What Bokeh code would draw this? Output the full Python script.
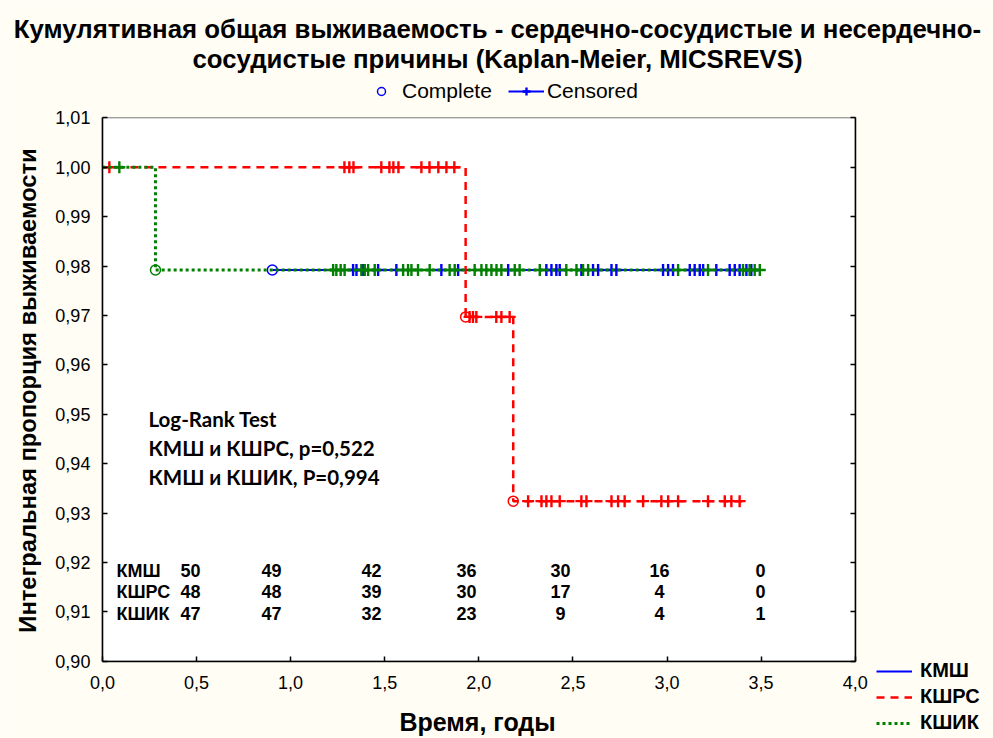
import math
from bokeh.plotting import figure
from bokeh.models import Range1d, LinearAxis, FixedTicker, Legend, LegendItem, Label, BoxAnnotation
from bokeh.core.properties import value
from bokeh.embed import file_html
from bokeh.resources import INLINE

# ---------------- data ----------------
TITLE_LINES = ["Кумулятивная общая выживаемость - сердечно-сосудистые и несердечно-",
               "сосудистые причины (Kaplan-Meier, MICSREVS)"]
X_TITLE = "Время, годы"
Y_TITLE = "Интегральная пропорция выживаемости"

x_ticks = [0.0, 0.5, 1.0, 1.5, 2.0, 2.5, 3.0, 3.5, 4.0]
x_tick_labels = ["0,0", "0,5", "1,0", "1,5", "2,0", "2,5", "3,0", "3,5", "4,0"]
y_ticks = [0.90, 0.91, 0.92, 0.93, 0.94, 0.95, 0.96, 0.97, 0.98, 0.99, 1.00, 1.01]
y_tick_labels = ["0,90", "0,91", "0,92", "0,93", "0,94", "0,95", "0,96", "0,97",
                 "0,98", "0,99", "1,00", "1,01"]

groups = ["КМШ", "КШРС", "КШИК"]

# КМШ (blue)
kmsh_event_t = [0.903]
kmsh_surv = [0.9792]
kmsh_end = 3.49
kmsh_cens = [1.332, 1.350, 1.385, 1.465, 1.562, 1.801, 1.890, 2.156, 2.359, 2.386,
             2.412, 2.430, 2.545, 2.607, 2.634, 2.705, 2.731, 2.979, 3.006, 3.032,
             3.121, 3.147, 3.174, 3.192, 3.262, 3.333, 3.360, 3.386, 3.422, 3.448]

# КШРС (red)
kshrs_event_t = [1.930, 2.183]
kshrs_surv = [0.9697, 0.9324]
kshrs_end = 3.40
kshrs_cens_lvl0 = [0.037, 1.286, 1.312, 1.334, 1.482, 1.525, 1.546, 1.573, 1.695,
                   1.738, 1.785, 1.828, 1.870]
kshrs_cens_lvl1 = [1.951, 1.969, 1.987, 2.093, 2.120, 2.164]
kshrs_cens_lvl2 = [2.262, 2.333, 2.359, 2.386, 2.430, 2.545, 2.572, 2.705, 2.740,
                   2.775, 2.873, 2.970, 3.006, 3.059, 3.218, 3.307, 3.342, 3.386]

# КШИК (green)
kshik_event_t = [0.282]
kshik_surv = [0.9792]
kshik_end = 3.50
kshik_cens_lvl0 = [0.090]
kshik_cens_lvl1 = [1.226, 1.243, 1.266, 1.287, 1.376, 1.394, 1.412, 1.447, 1.598,
                   1.624, 1.642, 1.677, 1.739, 1.845, 1.872, 1.978, 2.014, 2.040,
                   2.067, 2.094, 2.120, 2.191, 2.217, 2.324, 2.465, 2.519, 2.554,
                   2.581, 3.059, 3.218, 3.404, 3.439, 3.466, 3.493]

at_risk_kmsh = [50, 49, 42, 36, 30, 16, 0]
at_risk_kshrs = [48, 48, 39, 30, 17, 4, 0]
at_risk_kshik = [47, 47, 32, 23, 9, 4, 1]

LOGRANK_LINES = ["Log-Rank Test", "КМШ и КШРС, p=0,522", "КМШ и КШИК, P=0,994"]
LEGEND_TOP = ["Complete", "Censored"]

# ---------------- style / layout ----------------
W, H = 993, 738
CREAM = "#FFFDF4"
BLUE = "#0000FF"
RED = "#FF0000"
GREEN = "#008000"
FONT = "Liberation Sans"

# plot box in page pixels: x 0 -> 101.9, 0.5 per 94.1 px; y 1.00 -> 166.7, 0.01 per 49.4 px
def px2x(px):
    return (px - 101.9) / 188.2

def px2y(py):
    return 1.00 - (py - 166.7) / 4940.0

p = figure(width=W, height=H,
           x_range=Range1d(px2x(0), px2x(W)), y_range=Range1d(px2y(H), px2y(0)),
           output_backend="svg", toolbar_location=None, min_border=0,
           min_border_left=0, min_border_right=0, min_border_top=0, min_border_bottom=0,
           background_fill_color=CREAM, border_fill_color=CREAM, outline_line_color=None)
p.title.visible = False
p.xgrid.visible = False
p.ygrid.visible = False

x0, x1 = x_ticks[0], x_ticks[-1]
y0, y1 = y_ticks[0], y_ticks[-1]

# white plotting area
p.add_layout(BoxAnnotation(left=x0, right=x1, bottom=y0, top=y1, fill_color="white",
                           fill_alpha=1.0, line_alpha=0, level="underlay"))
# grid lines derived from the ticks
p.segment(x0=x_ticks, x1=x_ticks, y0=[y0] * len(x_ticks), y1=[y1] * len(x_ticks),
          line_color="#DEDEDE", line_width=1.5, level="underlay")
p.segment(x0=[x0] * len(y_ticks), x1=[x1] * len(y_ticks), y0=y_ticks, y1=y_ticks,
          line_color="#DEDEDE", line_width=1.5, level="underlay")

# axes at fixed locations on the plot box
p.xaxis.fixed_location = y0
p.yaxis.fixed_location = x0
p.xaxis.bounds = (x0, x1)
p.yaxis.bounds = (y0, y1)
p.xaxis.ticker = FixedTicker(ticks=x_ticks)
p.yaxis.ticker = FixedTicker(ticks=y_ticks)
p.xaxis.major_label_overrides = dict(zip(x_ticks, x_tick_labels))
p.yaxis.major_label_overrides = dict(zip(y_ticks, y_tick_labels))
for ax in (p.xaxis[0], p.yaxis[0]):
    ax.major_tick_in = 5
    ax.major_tick_out = 0
    ax.minor_tick_in = 0
    ax.minor_tick_out = 0
    ax.axis_line_width = 1.5
    ax.major_tick_line_width = 1.5
    ax.major_label_text_font = FONT
    ax.major_label_text_font_size = "18px"
    ax.major_label_text_color = "black"
p.xaxis.major_label_standoff = 15
p.yaxis.major_label_standoff = 12

ax_r = LinearAxis(ticker=FixedTicker(ticks=y_ticks), fixed_location=x1, bounds=(y0, y1),
                  major_label_overrides={t: "" for t in y_ticks},
                  major_tick_in=5, major_tick_out=0, minor_tick_in=0, minor_tick_out=0,
                  axis_line_width=1.5, major_tick_line_width=1.5)
p.add_layout(ax_r, "right")

# frame border
p.add_layout(BoxAnnotation(left=x0, right=x1, bottom=y0, top=y1, fill_alpha=0,
                           line_color="black", line_width=1.5))

CROSS = dict(marker="cross", size=12, line_width=2.4)
CIRC = dict(marker="circle", size=10, fill_color=None, line_width=1.5)

# КМШ
r_kmsh = p.line(x=[kmsh_event_t[0], kmsh_end], y=[kmsh_surv[0], kmsh_surv[0]],
                line_color=BLUE, line_width=2)
r_kmsh_c = p.scatter(x=kmsh_cens, y=[kmsh_surv[0]] * len(kmsh_cens), line_color=BLUE, **CROSS)
r_kmsh_e = p.scatter(x=kmsh_event_t, y=kmsh_surv, line_color=BLUE, **CIRC)

# КШРС
r_kshrs = p.step(x=[0.0] + kshrs_event_t + [kshrs_end], y=[1.0] + kshrs_surv + [kshrs_surv[-1]],
                 mode="after", line_color=RED, line_width=2.5, line_dash="8 6")
for lvl, cens in zip([1.0] + kshrs_surv, [kshrs_cens_lvl0, kshrs_cens_lvl1, kshrs_cens_lvl2]):
    p.scatter(x=cens, y=[lvl] * len(cens), line_color=RED, **CROSS)
p.scatter(x=kshrs_event_t, y=kshrs_surv, line_color=RED, **CIRC)

# КШИК
r_kshik = p.step(x=[0.0] + kshik_event_t + [kshik_end], y=[1.0] + kshik_surv + [kshik_surv[-1]],
                 mode="after", line_color=GREEN, line_width=3, line_dash="3 3")
for lvl, cens in zip([1.0] + kshik_surv, [kshik_cens_lvl0, kshik_cens_lvl1]):
    p.scatter(x=cens, y=[lvl] * len(cens), line_color=GREEN, **CROSS)
p.scatter(x=kshik_event_t, y=kshik_surv, line_color=GREEN, **CIRC)

# at-risk table
row_py = [570, 591, 613]
col_px = [190, 271, 371, 466, 560, 659, 760]
TABLE_TXT = dict(text_font=value(FONT), text_font_style="bold", text_font_size="18px",
                 text_color="black", text_baseline="middle")
p.text(x=[px2x(116)] * 3, y=[px2y(v) for v in row_py], text=groups, text_align="left", **TABLE_TXT)
for py, counts in zip(row_py, [at_risk_kmsh, at_risk_kshrs, at_risk_kshik]):
    p.text(x=[px2x(c) for c in col_px], y=[px2y(py)] * len(counts),
           text=[str(c) for c in counts], text_align="center", **TABLE_TXT)

# log-rank text
for py, line in zip([418, 447, 476], LOGRANK_LINES):
    p.add_layout(Label(x=px2x(148), y=px2y(py), text=line, text_align="left",
                       text_baseline="middle", text_font="Lato", text_font_style="bold",
                       text_font_size="20.5px", text_color="black"))

# titles
for py, line in zip([28, 58], TITLE_LINES):
    p.add_layout(Label(x=px2x(497), y=px2y(py), text=line, text_align="center",
                       text_baseline="middle", text_font=FONT, text_font_style="bold",
                       text_font_size="25.8px", text_color="black"))
p.add_layout(Label(x=px2x(477), y=px2y(721), text=X_TITLE, text_align="center",
                   text_baseline="middle", text_font=FONT, text_font_style="bold",
                   text_font_size="25px", text_color="black"))
p.add_layout(Label(x=px2x(27), y=px2y(390), text=Y_TITLE, angle=math.pi / 2,
                   text_align="center", text_baseline="middle", text_font=FONT,
                   text_font_style="bold", text_font_size="23.7px", text_color="black"))

# top legend (Complete / Censored) using the blue curve's renderers
top_leg = Legend(items=[LegendItem(label=LEGEND_TOP[0], renderers=[r_kmsh_e], index=0),
                        LegendItem(label=LEGEND_TOP[1], renderers=[r_kmsh, r_kmsh_c], index=0)],
                 orientation="horizontal", location=(363, H - 103),
                 glyph_width=36, glyph_height=20, label_standoff=3, spacing=16,
                 padding=0, margin=0, border_line_alpha=0, background_fill_alpha=0,
                 label_text_font=FONT, label_text_font_size="21px", label_text_color="black")
p.add_layout(top_leg)

# bottom-right legend (groups)
bot_leg = Legend(items=[LegendItem(label=g, renderers=[r])
                        for g, r in zip(groups, [r_kmsh, r_kshrs, r_kshik])],
                 orientation="vertical", location=(876, H - 734),
                 glyph_width=36, glyph_height=20, label_standoff=8, spacing=3,
                 padding=0, margin=0, border_line_alpha=0, background_fill_alpha=0,
                 label_text_font=FONT, label_text_font_style="bold",
                 label_text_font_size="20px", label_text_color="black")
p.add_layout(bot_leg)

open("out.html", "w").write(file_html(p, INLINE))
